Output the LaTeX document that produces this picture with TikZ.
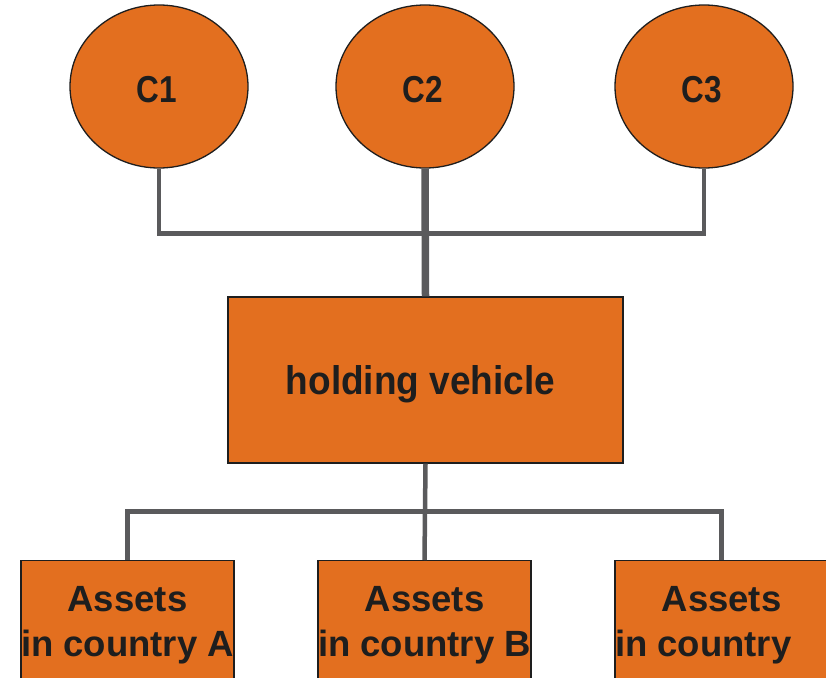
\documentclass[tikz,border=0pt]{standalone}
\usepackage{fontspec}
\setmainfont{Liberation Sans}
\newfontfamily\ownerfont[FakeStretch=0.84]{Liberation Sans}
\newfontfamily\holderfont[FakeStretch=0.925]{Liberation Sans}
\usetikzlibrary{shapes.geometric}
\definecolor{boxorange}{RGB}{227,111,31}
\definecolor{linkgray}{RGB}{90,90,92}
\definecolor{inkdark}{RGB}{30,30,30}
\begin{document}
\begin{tikzpicture}[x=1pt,y=-1pt,
  owner/.style={ellipse, draw=inkdark, line width=1.3pt, fill=boxorange,
    minimum width=178pt, minimum height=163pt, inner sep=0pt,
    text height=31pt, text depth=0pt,
    font=\ownerfont\bfseries\fontsize{37.5}{44}\selectfont, text=inkdark},
  holder/.style={rectangle, draw=inkdark, line width=1.3pt, fill=boxorange,
    minimum width=395pt, minimum height=166pt, inner sep=0pt,
    text height=28pt, text depth=0pt,
    font=\holderfont\bfseries\fontsize{40}{46}\selectfont, text=inkdark},
  assetbox/.style={rectangle, draw=inkdark, line width=1.3pt, fill=boxorange,
    anchor=north, minimum width=213pt, minimum height=129pt, inner sep=0pt,
    align=center,
    font=\bfseries\fontsize{36.5}{45}\selectfont, text=inkdark},
  link/.style={draw=linkgray, line width=4.5pt},
  trunk/.style={draw=linkgray, line width=7.5pt}]
\useasboundingbox (0,0) rectangle (826,677);
\clip (0,0) rectangle (826,677);

% owners
\node[owner] (c1) at (159,86.5) {C1\kern4pt};
\node[owner] (c2) at (425,86.5) {C2\kern4pt};
\node[owner] (c3) at (704,86.5) {C3\kern4pt};

% holding vehicle
\node[holder] (hv) at (425.5,380) {holding vehicle\kern10pt};

% upper connectors
\coordinate (topbus) at (425,233.5);
\draw[link] (c1.south) |- (topbus) -| (c3.south);
\draw[trunk] (c2.south) -- (hv.north);

% asset boxes
\node[assetbox] (a) at (127.5,560) {Assets\\in country A};
\node[assetbox] (b) at (424.5,560) {Assets\\in country B};
\node[assetbox] (c) at (721.5,560) {Assets\\in country\phantom{ C}};

% lower connectors
\coordinate (lowbus) at (425,511.5);
\draw[link] (hv.south) -- (lowbus);
\draw[link] (a.north) |- (lowbus) -| (c.north);
\draw[link] (lowbus) -- (b.north);
\end{tikzpicture}
\end{document}
